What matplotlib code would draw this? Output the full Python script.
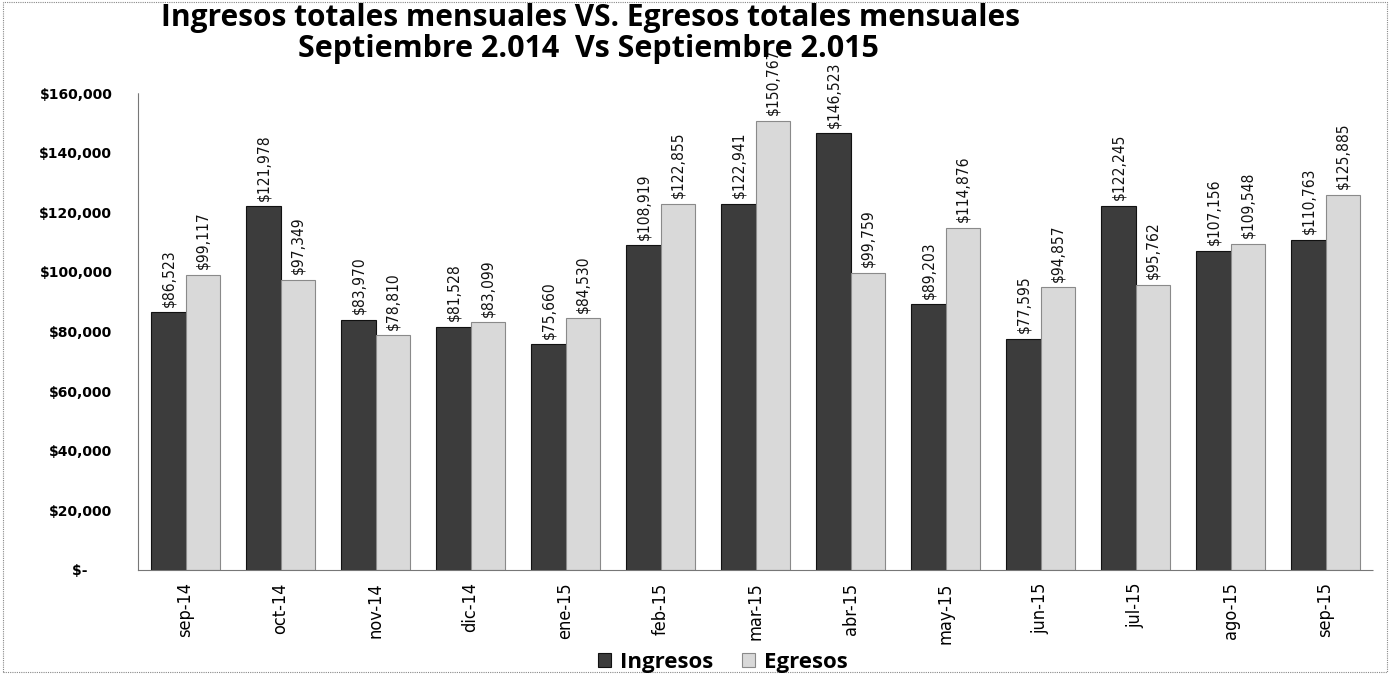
import matplotlib
matplotlib.use("Agg")
import matplotlib.pyplot as plt
from matplotlib.patches import Rectangle
from matplotlib.ticker import FuncFormatter
from matplotlib import font_manager
import numpy as np

months = ["sep-14", "oct-14", "nov-14", "dic-14", "ene-15", "feb-15", "mar-15",
          "abr-15", "may-15", "jun-15", "jul-15", "ago-15", "sep-15"]
ingresos = [86523, 121978, 83970, 81528, 75660, 108919, 122941,
            146523, 89203, 77595, 122245, 107156, 110763]
egresos = [99117, 97349, 78810, 83099, 84530, 122855, 150767,
           99759, 114876, 94857, 95762, 109548, 125885]
series_names = ["Ingresos", "Egresos"]
title_lines = ["Ingresos totales mensuales VS. Egresos totales mensuales",
               "Septiembre 2.014  Vs Septiembre 2.015"]

# upright narrow face for the rotated labels, if one is installed
narrow_file = None
for f in font_manager.fontManager.ttflist:
    n = f.name.lower()
    if ("narrow" in n or "condensed" in n or f.stretch in ("condensed", "semi-condensed")) \
            and f.weight in ("normal", 400, "regular") and f.style == "normal":
        narrow_file = f.fname
        break
if narrow_file:
    narrow = font_manager.FontProperties(fname=narrow_file)
else:
    narrow = font_manager.FontProperties(family="DejaVu Sans")

fig = plt.figure(figsize=(13.9, 6.75), dpi=100)
ax = fig.add_axes([0.0993, 0.1556, 0.8885, 0.7064])

x = np.arange(len(months))
w = 0.36
dark = "#3c3c3c"
light = "#d9d9d9"
b1 = ax.bar(x - w / 2, ingresos, w, color=dark, edgecolor="#111111", linewidth=0.8,
            label=series_names[0])
b2 = ax.bar(x + w / 2, egresos, w, color=light, edgecolor="#8a8a8a", linewidth=0.8,
            label=series_names[1])

val_fp = narrow.copy()
val_fp.set_size(11.2)
for bars, vals in ((b1, ingresos), (b2, egresos)):
    for rect, v in zip(bars, vals):
        ax.annotate(f"${v:,.0f}", (rect.get_x() + rect.get_width() / 2, v),
                    xytext=(0, 4), textcoords="offset points",
                    rotation=90, ha="center", va="bottom",
                    fontproperties=val_fp, color="#111111")

ax.set_xlim(-0.5, len(months) - 0.5)
ax.set_ylim(0, 160000)
ax.set_yticks(np.arange(0, 160001, 20000))


def money(v, pos):
    if v == 0:
        return "$-     "
    return f"${v:,.0f}"


ax.yaxis.set_major_formatter(FuncFormatter(money))
ax.tick_params(axis="y", length=0, pad=18.5)
for t in ax.get_yticklabels():
    t.set_fontweight("bold")
    t.set_fontsize(10)
ax.set_xticks(x)
xt_fp = narrow.copy()
xt_fp.set_size(13)
ax.set_xticklabels(months, rotation=90, fontproperties=xt_fp)
ax.tick_params(axis="x", length=0, pad=9)

for side in ("top", "right"):
    ax.spines[side].set_visible(False)
for side in ("left", "bottom"):
    ax.spines[side].set_color("#777777")
    ax.spines[side].set_linestyle((0, (1, 1)))
    ax.spines[side].set_linewidth(0.8)

fig.text(0.425, 0.973, title_lines[0], ha="center", va="center",
         fontsize=21.5, fontweight="bold", family="Open Sans")
fig.text(0.423, 0.927, title_lines[1], ha="center", va="center",
         fontsize=22, fontweight="bold", family="Open Sans")

leg = fig.legend(handles=[b1, b2], labels=series_names, loc="center",
                 bbox_to_anchor=(0.52, 0.019), ncol=2, frameon=False,
                 handlelength=0.6, handleheight=0.6, handletextpad=0.4,
                 columnspacing=1.3, prop={"family": "Open Sans", "weight": "bold", "size": 16})

fig.patches.append(Rectangle((0.002, 0.004), 0.996, 0.993, transform=fig.transFigure,
                             fill=False, edgecolor="#888888", linewidth=0.8,
                             linestyle=(0, (1, 1))))

fig.savefig("out.png", dpi=100)
